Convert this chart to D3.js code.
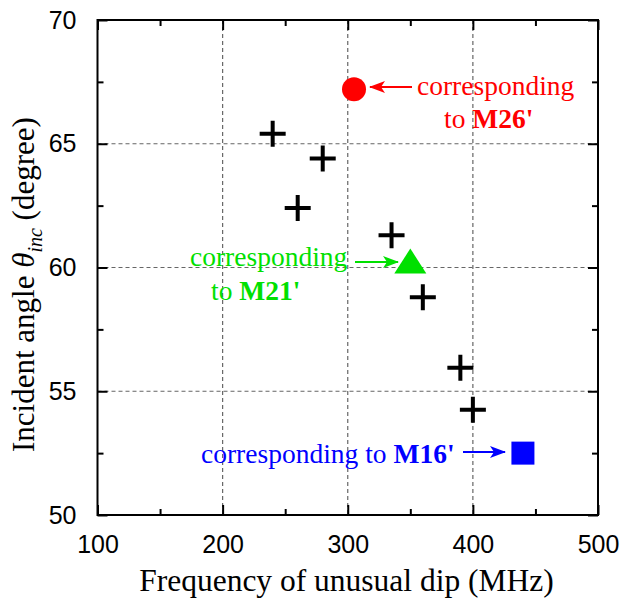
<!DOCTYPE html>
<html><head><meta charset="utf-8">
<script src="https://cdn.jsdelivr.net/npm/d3@7"></script>
<style>body{margin:0;background:#fff}</style>
</head><body>
<svg id="c" width="622" height="602"></svg>
<script>
const crossFreq = [240, 280, 260, 335, 360, 390, 400];
const crossAngle = [65.4, 64.4, 62.4, 61.3, 58.8, 55.95, 54.25];
const circlePt = [305, 67.2];
const trianglePt = [350, 60.2];
const squarePt = [440, 52.5];
const xTicks = [100, 200, 300, 400, 500];
const yTicks = [50, 55, 60, 65, 70];
const xMinor = [150, 250, 350, 450];
const yMinor = [52.5, 57.5, 62.5, 67.5];

const svg = d3.select("#c");
const L = 97.5, R = 598, T = 20, B = 515;
const x = d3.scaleLinear().domain([100, 500]).range([L, R]);
const y = d3.scaleLinear().domain([50, 70]).range([B, T]);
const sans = "'Liberation Sans', Arial, sans-serif";
const serif = "'Liberation Serif', 'Times New Roman', serif";

// grid
const g = svg.append("g");
g.selectAll(".gx").data([200, 300, 400]).enter().append("line")
  .attr("x1", d => x(d)).attr("x2", d => x(d)).attr("y1", T).attr("y2", B)
  .attr("stroke", "#666").attr("stroke-width", 1.2).attr("stroke-dasharray", "4,3");
g.selectAll(".gy").data([55, 60, 65]).enter().append("line")
  .attr("y1", d => y(d)).attr("y2", d => y(d)).attr("x1", L).attr("x2", R)
  .attr("stroke", "#666").attr("stroke-width", 1.2).attr("stroke-dasharray", "4,3");

// axes with inward ticks
const ax = svg.append("g");
function addAxis(axisGen, transform) {
  const a = ax.append("g").attr("transform", transform).call(axisGen);
  a.select(".domain").remove();
  a.selectAll("line").attr("stroke", "#000").attr("stroke-width", 2);
  return a;
}
const bottom = addAxis(d3.axisBottom(x).tickValues(xTicks).tickSize(-10).tickPadding(20).tickFormat(d3.format("d")), `translate(0,${B})`);
bottom.selectAll("text").attr("font-family", sans).attr("font-size", 25).attr("fill", "#000");
addAxis(d3.axisBottom(x).tickValues(xMinor).tickSize(-6).tickFormat(""), `translate(0,${B})`);
addAxis(d3.axisTop(x).tickValues(xTicks).tickSize(-10).tickFormat(""), `translate(0,${T})`);
addAxis(d3.axisTop(x).tickValues(xMinor).tickSize(-6).tickFormat(""), `translate(0,${T})`);
const left = addAxis(d3.axisLeft(y).tickValues(yTicks).tickSize(-10).tickPadding(21).tickFormat(d3.format("d")), `translate(${L},0)`);
left.selectAll("text").attr("font-family", sans).attr("font-size", 25).attr("fill", "#000");
addAxis(d3.axisLeft(y).tickValues(yMinor).tickSize(-6).tickFormat(""), `translate(${L},0)`);
addAxis(d3.axisRight(y).tickValues(yTicks).tickSize(-10).tickFormat(""), `translate(${R},0)`);
addAxis(d3.axisRight(y).tickValues(yMinor).tickSize(-6).tickFormat(""), `translate(${R},0)`);

// frame
svg.append("rect").attr("x", L).attr("y", T).attr("width", R - L).attr("height", B - T)
  .attr("fill", "none").attr("stroke", "#000").attr("stroke-width", 2);

// crosses
const crosses = crossFreq.map((f, i) => [f, crossAngle[i]]);
svg.selectAll(".cross").data(crosses).enter().append("path")
  .attr("transform", d => `translate(${x(d[0])},${y(d[1])})`)
  .attr("d", "M-13,0H13M0,-13V13")
  .attr("stroke", "#000").attr("stroke-width", 4).attr("fill", "none");

// special markers
svg.append("circle").attr("cx", x(circlePt[0])).attr("cy", y(circlePt[1])).attr("r", 12).attr("fill", "#ff0000");
svg.append("path").attr("transform", `translate(${x(trianglePt[0])},${y(trianglePt[1])})`)
  .attr("d", "M0,-14L16,11L-16,11Z").attr("fill", "#00e000");
svg.append("rect").attr("x", x(squarePt[0]) - 11.5).attr("y", y(squarePt[1]) - 11.5)
  .attr("width", 23).attr("height", 23).attr("fill", "#0000ff");

// arrows
const defs = svg.append("defs");
function marker(id, color) {
  defs.append("marker").attr("id", id).attr("viewBox", "0 0 16 12").attr("refX", 15).attr("refY", 6)
    .attr("markerWidth", 16).attr("markerHeight", 12).attr("markerUnits", "userSpaceOnUse").attr("orient", "auto")
    .append("path").attr("d", "M0,0L16,6L0,12L4,6Z").attr("fill", color);
}
marker("mr", "#ff0000"); marker("mg", "#00e000"); marker("mb", "#0000ff");
function arrow(x1, y1, x2, y2, color, m) {
  svg.append("line").attr("x1", x1).attr("y1", y1).attr("x2", x2).attr("y2", y2)
    .attr("stroke", color).attr("stroke-width", 2).attr("marker-end", `url(#${m})`);
}
arrow(412, 87, 370, 87, "#ff0000", "mr");
arrow(355, 262, 398, 262, "#00e000", "mg");
arrow(463, 452, 505, 452, "#0000ff", "mb");

// annotations
function ann(xp, yp, parts, color) {
  const t = svg.append("text").attr("x", xp).attr("y", yp).attr("font-family", serif)
    .attr("font-size", 27.5).attr("fill", color);
  parts.forEach(p => t.append("tspan").attr("font-weight", p[1] ? "bold" : "normal").text(p[0]));
}
ann(417, 95, [["corresponding", false]], "#ff0000");
ann(444, 128, [["to ", false], ["M26'", true]], "#ff0000");
ann(190, 266, [["corresponding", false]], "#00e000");
ann(211, 300, [["to ", false], ["M21'", true]], "#00e000");
ann(201, 463, [["corresponding to ", false], ["M16'", true]], "#0000ff");

// axis titles
svg.append("text").attr("x", 346.5).attr("y", 591).attr("text-anchor", "middle")
  .attr("font-family", serif).attr("font-size", 31.5).attr("fill", "#000").text("Frequency of unusual dip (MHz)");
const yt = svg.append("text").attr("transform", "translate(34,452) rotate(-90)")
  .attr("font-family", serif).attr("font-size", 31).attr("fill", "#000");
yt.append("tspan").text("Incident angle ");
yt.append("tspan").attr("font-style", "italic").text("θ");
yt.append("tspan").attr("font-style", "italic").attr("font-size", 20).attr("dy", 8).text("inc");
yt.append("tspan").attr("dy", -8).text("  (degree)");
</script>
</body></html>
